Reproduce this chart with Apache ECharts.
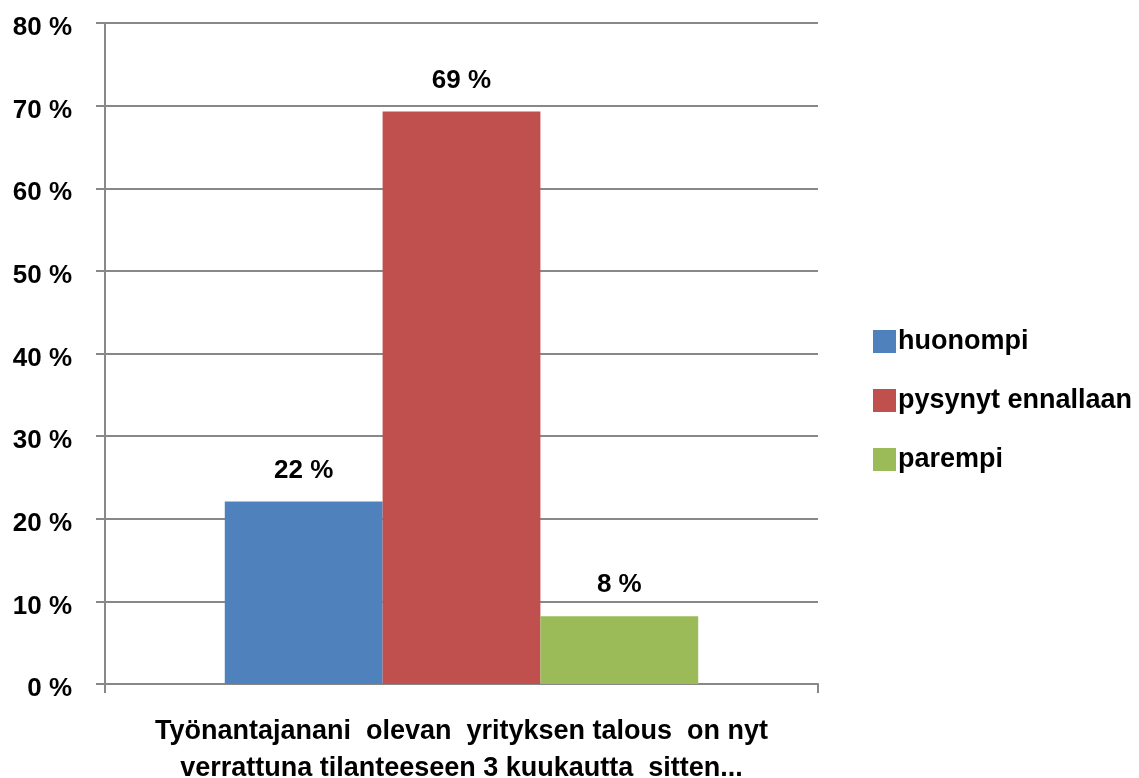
<!DOCTYPE html>
<html>
<head>
<meta charset="utf-8">
<script src="https://cdn.jsdelivr.net/npm/echarts@6/dist/echarts.min.js"></script>
<style>
  html, body { margin: 0; padding: 0; background: #fff; }
  #chart { width: 1139px; height: 778px; }
</style>
</head>
<body>
<div id="chart"></div>
<script>
// kategoria ja sarjat
let categories = ['Työnantajanani  olevan  yrityksen talous  on nyt\nverrattuna tilanteeseen 3 kuukautta  sitten...'];
let seriesNames = ['huonompi', 'pysynyt ennallaan', 'parempi'];
let seriesValues = [[22.1], [69.3], [8.2]];
let seriesColors = ['#4f81bd', '#c0504d', '#9bbb59'];
let yTicks = [0, 10, 20, 30, 40, 50, 60, 70, 80];

let fontFam = '"Liberation Sans", Arial, sans-serif';

let chart = echarts.init(document.getElementById('chart'));

let series = [];
for (let i = 0; i < seriesNames.length; i++) {
    series.push({
        name: seriesNames[i],
        type: 'bar',
        data: seriesValues[i],
        barGap: '0%',
        barCategoryGap: '33.6%',
        itemStyle: { color: seriesColors[i] },
        label: {
            show: true,
            position: 'top',
            distance: 18,
            color: '#000',
            fontFamily: fontFam,
            fontWeight: 'bold',
            fontSize: 26,
            formatter: function (p) {
                return Math.round(p.value) + ' %';
            }
        }
    });
}

chart.setOption({
    animation: false,
    backgroundColor: '#fff',
    grid: { left: 105, right: 321, top: 23, bottom: 94, outerBoundsMode: 'none', containLabel: false },
    legend: {
        orient: 'vertical',
        left: 868,
        top: 323,
        icon: 'rect',
        itemWidth: 23,
        itemHeight: 23,
        itemGap: 32,
        textStyle: { color: '#000', fontFamily: fontFam, fontWeight: 'bold', fontSize: 27, padding: [0, 0, 0, -3] },
        data: seriesNames
    },
    xAxis: {
        type: 'category',
        data: categories,
        axisLine: { lineStyle: { color: '#888', width: 2 } },
        axisTick: { show: true, length: 9, alignWithLabel: false, lineStyle: { color: '#888', width: 2 } },
        axisLabel: {
            color: '#000',
            fontFamily: fontFam,
            fontWeight: 'bold',
            fontSize: 27,
            lineHeight: 37,
            margin: 29
        }
    },
    yAxis: {
        type: 'value',
        min: yTicks[0],
        max: yTicks[yTicks.length - 1],
        interval: 10,
        axisLine: { show: true, lineStyle: { color: '#888', width: 2 } },
        axisTick: { show: true, length: 9, lineStyle: { color: '#888', width: 2 } },
        splitLine: { lineStyle: { color: '#888', width: 2 } },
        axisLabel: {
            color: '#000',
            margin: 33,
            formatter: function (v) { return '{a|' + v + ' %}'; },
            rich: {
                a: {
                    fontFamily: fontFam,
                    fontWeight: 'bold',
                    fontSize: 26,
                    color: '#000',
                    padding: [10, 0, 0, 0]
                }
            }
        }
    },
    series: series
});
</script>
</body>
</html>
